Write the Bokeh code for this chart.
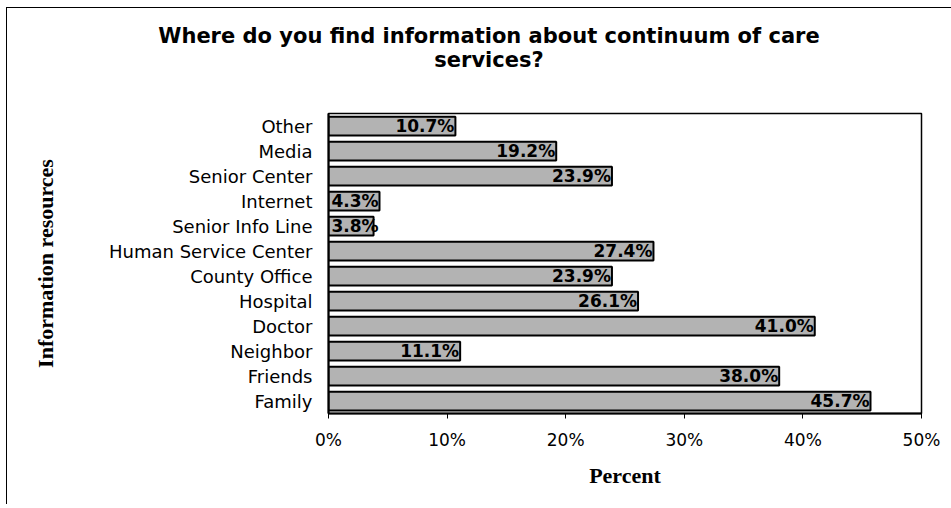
from bokeh.plotting import figure
from bokeh.models import Range1d, FactorRange, FixedTicker, ColumnDataSource, Div
from bokeh.layouts import column
from bokeh.embed import file_html
from bokeh.resources import INLINE

# ---- data ----
categories = ["Family", "Friends", "Neighbor", "Doctor", "Hospital", "County Office",
              "Human Service Center", "Senior Info Line", "Internet", "Senior Center",
              "Media", "Other"]
percent = [45.7, 38.0, 11.1, 41.0, 26.1, 23.9, 27.4, 3.8, 4.3, 23.9, 19.2, 10.7]
x_ticks = [0, 10, 20, 30, 40, 50]
x_tick_labels = ["0%", "10%", "20%", "30%", "40%", "50%"]
title_lines = ["Where do you find information about continuum of care", "services?"]
x_title = "Percent"
y_title = "Information resources"

SANS = "DejaVu Sans"
SERIF = "Liberation Serif"

labels = ["%.1f%%" % v for v in percent]
small = 5.2  # bars too short to hold their label inside the end
src_in = ColumnDataSource(dict(
    y=[c for c, v in zip(categories, percent) if v >= small],
    x=[v for v in percent if v >= small],
    t=[l for l, v in zip(labels, percent) if v >= small]))
src_out = ColumnDataSource(dict(
    y=[c for c, v in zip(categories, percent) if v < small],
    x=[0 for v in percent if v < small],
    t=[l for l, v in zip(labels, percent) if v < small]))

title_div = Div(
    text=('<div style="width:926px;margin-left:14px;padding-top:11px;text-align:center;'
          'font-family:\'DejaVu Sans\';font-weight:bold;font-size:21px;line-height:24px;color:black">'
          + title_lines[0] + '<br>' + title_lines[1] + '</div>'),
    width=940, height=91)

p = figure(width=940, height=395, output_backend="svg", toolbar_location=None,
           y_range=FactorRange(factors=categories, range_padding=0),
           x_range=Range1d(0, 50),
           min_border_left=321, min_border_right=26, min_border_top=4, min_border_bottom=91)

p.hbar(y=categories, right=percent, left=0, height=0.75,
       fill_color="#b3b3b3", line_color="black", line_width=2)

p.text(x="x", y="y", text="t", source=src_in, text_align="right", text_baseline="middle",
       x_offset=-1, text_font_size="17px", text_font_style="bold", text_color="black",
       text_font={"value": SANS})
p.text(x="x", y="y", text="t", source=src_out, text_align="left", text_baseline="middle",
       x_offset=3, text_font_size="17px", text_font_style="bold", text_color="black",
       text_font={"value": SANS})

p.xgrid.visible = False
p.ygrid.visible = False
p.outline_line_color = "black"
p.outline_line_width = 1.5

xa = p.xaxis[0]
xa.ticker = FixedTicker(ticks=x_ticks, minor_ticks=[])
xa.major_label_overrides = {t: l for t, l in zip(x_ticks, x_tick_labels)}
xa.major_tick_out = 5
xa.major_tick_in = 0
xa.major_label_standoff = 11
xa.major_label_text_font = SANS
xa.major_label_text_font_size = "17px"
xa.major_label_text_color = "black"
xa.axis_line_width = 2
xa.axis_line_color = "black"
xa.axis_label = x_title
xa.axis_label_text_font = SERIF
xa.axis_label_text_font_style = "bold"
xa.axis_label_text_font_size = "22px"
xa.axis_label_standoff = 10
xa.axis_label_text_color = "black"

ya = p.yaxis[0]
ya.major_tick_line_color = None
ya.major_tick_out = 0
ya.major_label_standoff = 16
ya.major_label_text_font = SANS
ya.major_label_text_font_size = "18px"
ya.major_label_text_color = "black"
ya.axis_line_width = 2
ya.axis_line_color = "black"
ya.axis_label = y_title
ya.axis_label_text_font = SERIF
ya.axis_label_text_font_style = "bold"
ya.axis_label_text_font_size = "22px"
ya.axis_label_standoff = 48
ya.axis_label_text_color = "black"

layout = column(title_div, p)
layout.styles = {"margin-left": "6px", "margin-top": "7px",
                 "border-left": "1px solid black", "border-top": "1px solid black"}

open("out.html", "w").write(file_html(layout, INLINE))
